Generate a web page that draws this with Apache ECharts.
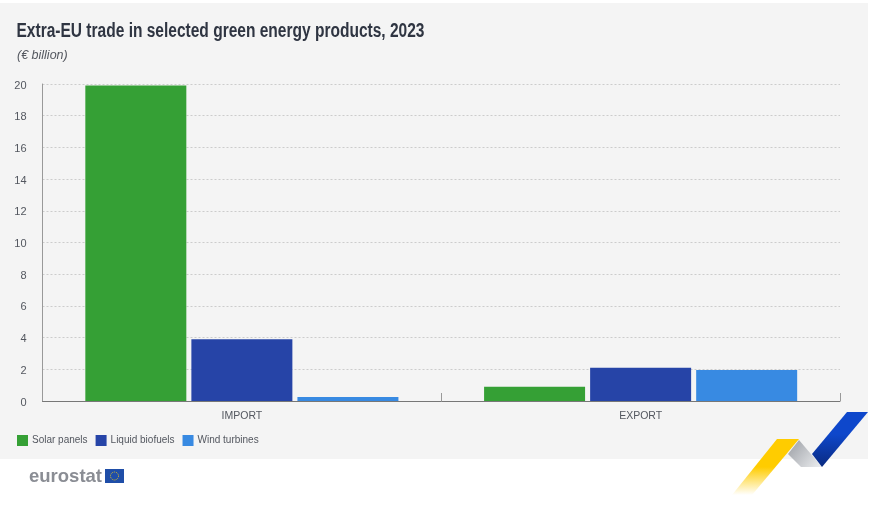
<!DOCTYPE html>
<html>
<head>
<meta charset="utf-8">
<style>html,body{margin:0;padding:0;background:#fff}#chart{width:877px;height:506px}</style>
<script src="https://cdn.jsdelivr.net/npm/echarts@6/dist/echarts.min.js"></script>
</head>
<body>
<div id="chart"></div>
<script>
var categories = ['IMPORT', 'EXPORT'];
var solarPanels = [19.9, 0.9];
var liquidBiofuels = [3.9, 2.1];
var windTurbines = [0.25, 1.95];
var yTicks = [0, 2, 4, 6, 8, 10, 12, 14, 16, 18, 20];

var sans = '"Liberation Sans", sans-serif';
var textGrey = '#53575f';

function barSeries(name, data, color) {
  return {
    name: name,
    type: 'bar',
    data: data,
    barWidth: 101,
    barGap: '5%',
    itemStyle: { color: color },
    emphasis: { disabled: true }
  };
}

var myChart = echarts.init(document.getElementById('chart'));

var option = {
  animation: false,
  backgroundColor: '#ffffff',
  textStyle: { fontFamily: sans },
  title: {
    text: '(€ billion)',
    left: 12, top: 44,
    textStyle: { fontFamily: sans, fontSize: 12.5, fontWeight: 'normal', fontStyle: 'italic', color: textGrey }
  },
  legend: {
    left: 12, top: 430,
    icon: 'rect',
    itemWidth: 11, itemHeight: 11,
    itemGap: 8,
    selectedMode: false,
    textStyle: { fontFamily: sans, fontSize: 10, color: textGrey, padding: [0, 0, 0, -1] }
  },
  grid: { left: 42.5, right: 37, top: 84, bottom: 105 },
  xAxis: {
    type: 'category',
    data: categories,
    axisLine: { lineStyle: { color: '#777777', width: 1 } },
    axisTick: { show: true, inside: true, length: 8, lineStyle: { color: '#999999' } },
    axisLabel: { fontFamily: sans, fontSize: 10.5, color: textGrey, margin: 10 }
  },
  yAxis: {
    type: 'value',
    min: yTicks[0],
    max: yTicks[yTicks.length - 1],
    interval: yTicks[1] - yTicks[0],
    axisLine: { show: true, lineStyle: { color: '#999999', width: 1 } },
    axisTick: { show: false },
    axisLabel: { fontFamily: sans, fontSize: 11, color: textGrey, margin: 16, align: 'right', verticalAlign: 'top', lineHeight: 3 },
    splitLine: { lineStyle: { color: '#cccccc', type: [2, 2], width: 1 } }
  },
  series: [
    barSeries('Solar panels', solarPanels, '#35a035'),
    barSeries('Liquid biofuels', liquidBiofuels, '#2644a7'),
    barSeries('Wind turbines', windTurbines, '#388ae2')
  ],
  graphic: [
    // grey panel behind the chart
    { type: 'rect', z: -10, shape: { x: 0, y: 3, width: 868, height: 456 }, style: { fill: '#f4f4f4' } },
    // no narrow font installed, so the title is squeezed to the original width
    {
      type: 'text', x: 16.5, y: 21, scaleX: 0.776,
      style: {
        text: 'Extra-EU trade in selected green energy products, 2023',
        font: 'bold 20px "Liberation Sans", sans-serif', fill: '#2f3542'
      }
    },
    // eurostat logo
    { type: 'text', x: 29, y: 467, style: { text: 'eurostat', font: 'bold 18.5px "Liberation Sans", sans-serif', fill: '#8a8d94' } },
    { type: 'rect', shape: { x: 105, y: 469, width: 19, height: 14 }, style: { fill: '#1f4ea8' } },
    { type: 'circle', shape: { cx: 114.5, cy: 476, r: 4 }, style: { fill: 'none', stroke: '#e8c31a', lineWidth: 1, lineDash: [1, 1] } },
    // ribbon decoration
    {
      type: 'polygon',
      shape: { points: [[777, 439], [799, 439], [752, 495], [732, 495]] },
      style: { fill: new echarts.graphic.LinearGradient(0, 0, 0, 1, [
        { offset: 0, color: '#ffcc00' }, { offset: 0.5, color: '#ffcc00' }, { offset: 1, color: '#ffffff' }
      ]) }
    },
    {
      type: 'polygon',
      shape: { points: [[799, 440], [822, 467], [801, 467], [788, 454]] },
      style: { fill: new echarts.graphic.LinearGradient(0, 0, 1, 1, [
        { offset: 0, color: '#9a9da3' }, { offset: 1, color: '#eef0f2' }
      ]) }
    },
    {
      type: 'polygon',
      shape: { points: [[847, 412], [868, 412], [822, 467], [812, 454]] },
      style: { fill: new echarts.graphic.LinearGradient(0, 1, 0, 0, [
        { offset: 0, color: '#0a2a80' }, { offset: 0.6, color: '#0e47cb' }, { offset: 1, color: '#0e47cb' }
      ]) }
    }
  ]
};

myChart.setOption(option);
</script>
</body>
</html>
